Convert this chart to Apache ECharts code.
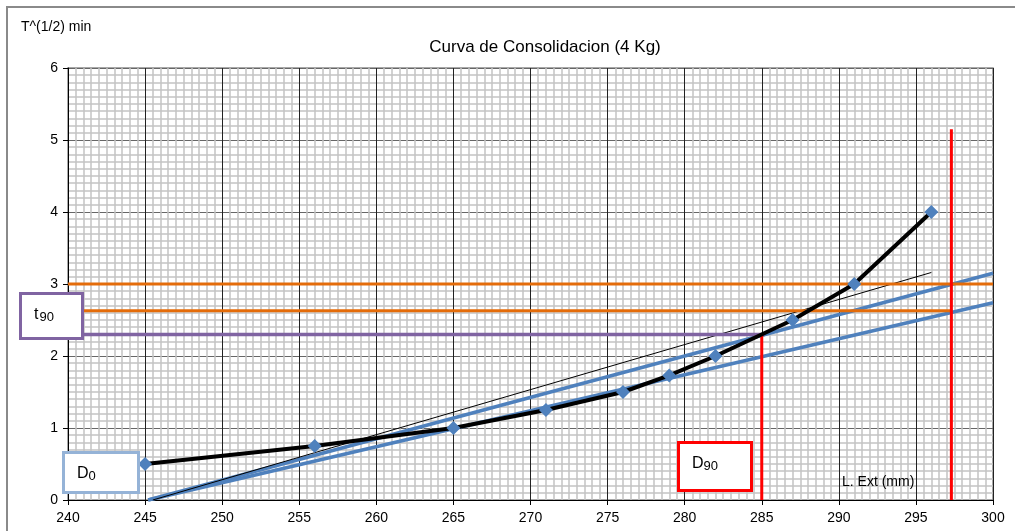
<!DOCTYPE html>
<html>
<head>
<meta charset="utf-8">
<script src="https://cdn.jsdelivr.net/npm/echarts@6/dist/echarts.min.js"></script>
<style>
  html, body { margin: 0; padding: 0; background: #fff; }
  #chart { width: 1015px; height: 531px; }
</style>
</head>
<body>
<div id="chart"></div>
<script>
// measured points: extensometer reading (mm) vs sqrt(time)
const extReading = [245, 256, 265, 271, 276, 279, 282, 287, 291, 296];
const sqrtTime = [0.5, 0.75, 1, 1.25, 1.5, 1.73, 2, 2.5, 3, 4];

// construction lines (end points)
const tangentX = [245.5, 296];
const tangentY = [0, 3.16];
const blueUpperX = [245.2, 300];
const blueUpperY = [0, 3.15];
const blueLowerX = [245.2, 300];
const blueLowerY = [0, 2.74];
const orangeTopX = [240, 300];
const orangeTopY = [3.0, 3.0];
const orangeLowX = [240, 297.3];
const orangeLowY = [2.63, 2.63];
const t90X = [240, 285.2];
const t90Y = [2.3, 2.3];
const d90X = [285, 285];
const d90Y = [0, 2.32];
const rightRedX = [297.3, 297.3];
const rightRedY = [0, 5.15];

const xTicks = [240, 300, 5];
const yTicks = [0, 6, 1];

const pairs = (xs, ys) => xs.map((x, i) => [x, ys[i]]);

const font = 'Liberation Sans, Arial, sans-serif';
const blue = '#4F81BD';

const chart = echarts.init(document.getElementById('chart'));

const lineSeries = (name, xs, ys, color, width, z) => ({
  name: name,
  type: 'line',
  data: pairs(xs, ys),
  showSymbol: false,
  symbol: 'none',
  lineStyle: { color: color, width: width },
  z: z,
  silent: true,
  animation: false
});

// annotation box: frame + big letter + small index
const box = (x, y, w, h, stroke, big, small, tx, baseline, gap) => [
  { type: 'rect', z: 100, shape: { x: x + 1.5, y: y + 1.5, width: w - 3, height: h - 3 },
    style: { fill: '#fff', stroke: stroke, lineWidth: 3 } },
  { type: 'text', z: 101, x: tx, y: baseline + 3,
    style: { text: big, font: '16px ' + font, fill: '#000', align: 'left', verticalAlign: 'bottom' } },
  { type: 'text', z: 101, x: tx + gap, y: baseline + 3.5,
    style: { text: small, font: '13px ' + font, fill: '#000', align: 'left', verticalAlign: 'bottom' } }
];

chart.setOption({
  backgroundColor: '#fff',
  animation: false,
  title: {
    text: 'Curva de Consolidacion (4 Kg)',
    left: 540,
    top: 34,
    textAlign: 'center',
    textStyle: { fontFamily: font, fontSize: 17, fontWeight: 'normal', color: '#000' }
  },
  grid: {
    left: 68, right: 22, top: 68, bottom: 31,
    show: true, borderColor: '#8c8c8c', borderWidth: 1.5,
    backgroundColor: 'transparent'
  },
  xAxis: {
    type: 'value',
    min: xTicks[0], max: xTicks[1], interval: xTicks[2],
    axisLine: { show: true, onZero: false, lineStyle: { color: '#000', width: 1 } },
    axisTick: { show: true, inside: false, length: 5, lineStyle: { color: '#000' } },
    axisLabel: { color: '#000', fontFamily: font, fontSize: 14, margin: 11 },
    splitLine: { show: true, lineStyle: { color: '#222', width: 1 } },
    minorTick: { show: false, splitNumber: 10 },
    minorSplitLine: { show: true, lineStyle: { color: '#c4c4c4', width: 1.5 } }
  },
  yAxis: {
    type: 'value',
    min: yTicks[0], max: yTicks[1], interval: yTicks[2],
    axisLine: { show: true, onZero: false, lineStyle: { color: '#000', width: 1 } },
    axisTick: { show: true, inside: false, length: 5, lineStyle: { color: '#000' } },
    axisLabel: { color: '#000', fontFamily: font, fontSize: 14, margin: 10 },
    splitLine: { show: true, lineStyle: { color: '#666', width: 1 } },
    minorTick: { show: false, splitNumber: 10 },
    minorSplitLine: { show: true, lineStyle: { color: '#c4c4c4', width: 1.5 } }
  },
  series: [
    lineSeries('blueUpper', blueUpperX, blueUpperY, blue, 3.5, 3),
    lineSeries('blueLower', blueLowerX, blueLowerY, blue, 3.5, 3),
    lineSeries('tangent', tangentX, tangentY, '#000', 1, 4),
    {
      name: 'curve',
      type: 'line',
      data: pairs(extReading, sqrtTime),
      symbol: 'diamond',
      symbolSize: [14, 14],
      showSymbol: true,
      itemStyle: { color: blue, borderWidth: 0 },
      lineStyle: { color: '#000', width: 4 },
      z: 8,
      silent: true,
      animation: false
    },
    lineSeries('orangeTop', orangeTopX, orangeTopY, '#E46C0A', 3, 6),
    lineSeries('orangeLow', orangeLowX, orangeLowY, '#E46C0A', 3, 6),
    lineSeries('t90', t90X, t90Y, '#8064A2', 3.5, 6),
    lineSeries('d90', d90X, d90Y, '#FF0000', 3, 7),
    lineSeries('rightRed', rightRedX, rightRedY, '#FF0000', 3, 7)
  ],
  graphic: [
    {
      type: 'polyline', z: 100,
      shape: { points: [[7, 531], [7, 7], [1015, 7]] },
      style: { stroke: '#8a8a8a', lineWidth: 2, fill: null }
    },
    {
      type: 'text', z: 100, x: 21, y: 20,
      style: { text: 'T^(1/2) min', font: '14px ' + font, fill: '#000' }
    },
    {
      type: 'text', z: 100, x: 842, y: 475,
      style: { text: 'L. Ext (mm)', font: '14px ' + font, fill: '#000' }
    }
  ]
    .concat(box(19, 292, 65, 48, '#8064A2', 't', '90', 34, 320, 5.5))
    .concat(box(62, 451, 78, 43, '#95B3D7', 'D', '0', 77, 479, 11.5))
    .concat(box(677, 441, 76, 51, '#FF0000', 'D', '90', 692, 469, 11.5))
});
</script>
</body>
</html>
